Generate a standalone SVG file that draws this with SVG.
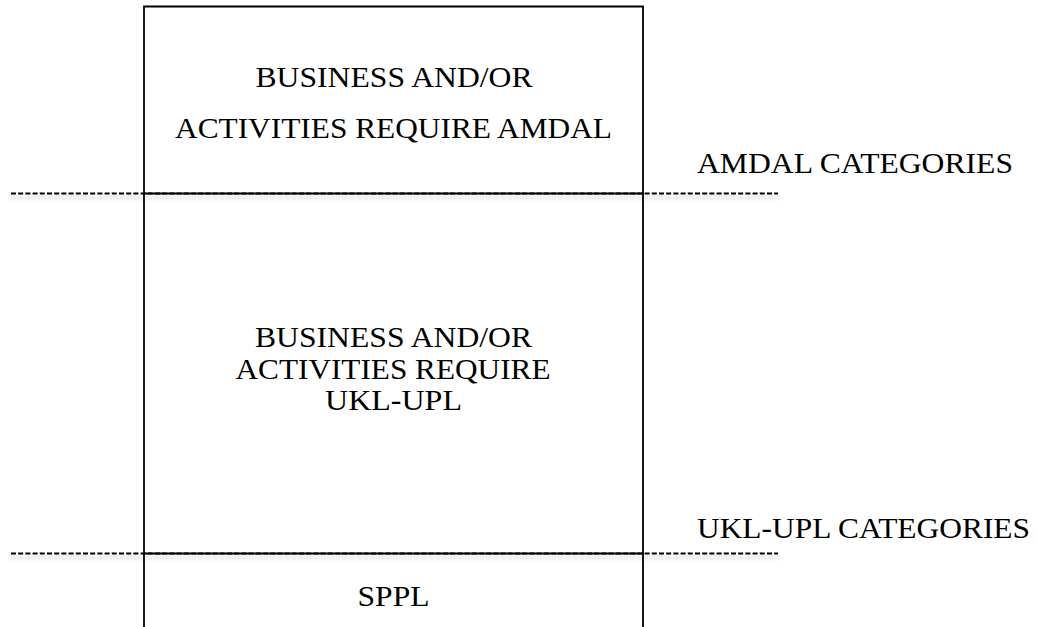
<svg xmlns="http://www.w3.org/2000/svg" width="1037" height="627" viewBox="0 0 1037 627">
  <style>
    .lbl { font-family: "Liberation Serif", "Times New Roman", serif; font-size: 29px; fill: #000; }
    .mid { text-anchor: middle; }
    .edge { stroke: #000; stroke-width: 1.8; fill: none; }
    .cut { stroke: #000; stroke-width: 1.8; stroke-dasharray: 5 2.2; fill: none; }
  </style>
  <defs>
    <filter id="soft" filterUnits="userSpaceOnUse" x="0" y="0" width="1037" height="627">
      <feGaussianBlur in="SourceAlpha" stdDeviation="2"/>
      <feOffset dy="4" result="blur"/>
      <feComponentTransfer in="blur" result="shade">
        <feFuncA type="linear" slope="0.25"/>
      </feComponentTransfer>
      <feMerge>
        <feMergeNode in="shade"/>
        <feMergeNode in="SourceGraphic"/>
      </feMerge>
    </filter>
  </defs>

  <!-- category boundaries -->
  <g id="connectors">
    <line class="cut" x1="11" y1="193.5" x2="778" y2="193.5" filter="url(#soft)"/>
    <line class="cut" x1="11" y1="553.5" x2="778" y2="553.5" filter="url(#soft)"/>
  </g>

  <!-- open-bottomed column split into three bands -->
  <g id="column">
    <path class="edge" d="M144 628 V6.5 H643 V628"/>
    <line class="edge" x1="144" y1="193.5" x2="643" y2="193.5"/>
    <line class="edge" x1="144" y1="553.5" x2="643" y2="553.5"/>
  </g>

  <g id="amdal-band">
    <text class="lbl mid" x="394" y="87" textLength="277" lengthAdjust="spacingAndGlyphs">BUSINESS AND/OR</text>
    <text class="lbl mid" x="393.5" y="138" textLength="437" lengthAdjust="spacingAndGlyphs">ACTIVITIES REQUIRE AMDAL</text>
  </g>

  <g id="ukl-upl-band">
    <text class="lbl mid" x="393.5" y="347" textLength="277" lengthAdjust="spacingAndGlyphs">BUSINESS AND/OR</text>
    <text class="lbl mid" x="393" y="378.5" textLength="315" lengthAdjust="spacingAndGlyphs">ACTIVITIES REQUIRE</text>
    <text class="lbl mid" x="393.5" y="410" textLength="137" lengthAdjust="spacingAndGlyphs">UKL-UPL</text>
  </g>

  <g id="sppl-band">
    <text class="lbl mid" x="393.5" y="606" textLength="72" lengthAdjust="spacingAndGlyphs">SPPL</text>
  </g>

  <g id="amdal-label">
    <text class="lbl" x="697" y="173" textLength="316" lengthAdjust="spacingAndGlyphs">AMDAL CATEGORIES</text>
  </g>

  <g id="ukl-upl-label">
    <text class="lbl" x="697" y="538" textLength="333" lengthAdjust="spacingAndGlyphs">UKL-UPL CATEGORIES</text>
  </g>
</svg>
